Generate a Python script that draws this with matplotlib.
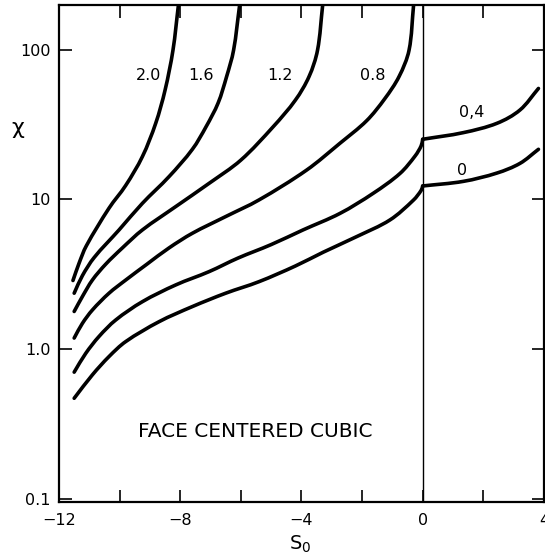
import numpy as np
import matplotlib
matplotlib.use("Agg")
import matplotlib.pyplot as plt
from matplotlib.path import Path
from matplotlib.patches import PathPatch
from matplotlib.ticker import FixedLocator, FixedFormatter, NullLocator

# ---- data (S0, chi) ----
s_20 = [-11.54, -11.34, -11.1, -10.35, -9.8, -9.25, -8.81, -8.5, -8.24, -8.06]
x_20 = [2.88, 3.75, 4.9, 8.75, 12.4, 19.3, 32.2, 53.7, 99, 198]

s_16 = [-11.5, -11.23, -10.84, -10.02, -9.25, -8.37, -7.6, -7.15, -6.75, -6.47, -6.24, -6.04]
x_16 = [2.37, 3.1, 4.1, 6.26, 9.42, 14.2, 21.6, 30.5, 44, 66, 99, 198]

s_12 = [-11.5, -11.23, -10.9, -10.46, -9.91, -9.25, -8.15, -7.05, -6.0, -4.93, -4.2, -3.75, -3.47, -3.3]
x_12 = [1.79, 2.25, 2.9, 3.7, 4.75, 6.26, 8.96, 12.8, 18.3, 30.6, 46, 66, 99, 198]

s_08 = [-11.5, -11.23, -10.9, -10.35, -9.8, -9.1, -8.37, -7.6, -6.5, -5.4, -3.83, -2.73, -1.85, -1.25, -0.78, -0.45, -0.3]
x_08 = [1.19, 1.49, 1.83, 2.37, 2.9, 3.7, 4.75, 5.95, 7.69, 9.93, 15.7, 23.7, 33.5, 47, 66, 99, 198]

# curves 0.4 and 0 have a break in slope at S0 = 0
s_04_left = [-11.5, -11.12, -10.68, -10.13, -9.25, -8.15, -7.05, -6.1, -5.0, -3.95, -2.73, -1.63, -0.75, -0.25, -0.05, 0.0]
x_04_left = [0.705, 0.94, 1.22, 1.57, 2.08, 2.69, 3.3, 4.06, 5.0, 6.26, 8.07, 11.0, 14.9, 19.5, 22.8, 25.2]
s_04_right = [0.0, 1.34, 2.45, 3.21, 3.82]
x_04_right = [25.2, 27.9, 32.2, 39.5, 55]

s_00_left = [-11.5, -10.9, -10.35, -9.8, -8.7, -7.6, -6.5, -5.4, -4.2, -3.28, -2.18, -1.08, -0.305, -0.05, 0.0]
x_00_left = [0.472, 0.676, 0.896, 1.127, 1.53, 1.93, 2.37, 2.83, 3.6, 4.45, 5.65, 7.3, 9.9, 11.5, 12.3]
s_00_right = [0.0, 1.34, 2.45, 3.21, 3.82]
x_00_right = [12.3, 13.2, 15.0, 17.4, 21.6]

curve_labels = ["2.0", "1.6", "1.2", "0.8", "0,4", "0"]
label_s = [-9.06, -7.32, -4.71, -1.65, 1.62, 1.3]
label_x = [66.6, 66.6, 66.6, 66.6, 37.8, 15.7]

xtick_pos = [-12, -10, -8, -6, -4, -2, 0, 2, 4]
xtick_lab = ["\u221212", "", "\u22128", "", "\u22124", "", "0", "", "4"]
ytick_pos = [0.1, 1.0, 10, 100]
ytick_lab = ["0.1", "1.0", "10", "100"]


def smooth_path(s, x, sx=30.3, sy=150.0):
    """Bezier path through the read points, built in (S0, log chi) space."""
    u = np.asarray(s, float) * sx
    v = np.log10(np.asarray(x, float)) * sy
    P = np.column_stack([u, v])
    n = len(P)
    T = np.zeros_like(P)
    for i in range(n):
        if i == 0:
            d = P[1] - P[0]
        elif i == n - 1:
            d = P[-1] - P[-2]
        else:
            d = P[i + 1] - P[i - 1]
        T[i] = d / np.hypot(*d)
    verts = [P[0]]
    codes = [Path.MOVETO]
    for i in range(n - 1):
        L = np.hypot(*(P[i + 1] - P[i])) / 3.0
        verts += [P[i] + T[i] * L, P[i + 1] - T[i + 1] * L, P[i + 1]]
        codes += [Path.CURVE4] * 3
    V = np.array(verts)
    data = np.column_stack([V[:, 0] / sx, 10 ** (V[:, 1] / sy)])
    return Path(data, codes)


# ---- figure ----
fig = plt.figure(figsize=(5.45, 5.59), dpi=100)
ax = fig.add_axes([0.1083, 0.102, 0.8897, 0.889])
ax.set_yscale("log")
ax.set_xlim(-12, 4)
ax.set_ylim(0.096, 198)

series = [(s_20, x_20), (s_16, x_16), (s_12, x_12), (s_08, x_08),
          (s_04_left, x_04_left), (s_04_right, x_04_right),
          (s_00_left, x_00_left), (s_00_right, x_00_right)]
for s, x in series:
    patch = PathPatch(smooth_path(s, x), fill=False, edgecolor="black", lw=2.6,
                      capstyle="round", joinstyle="round")
    ax.add_patch(patch)

ax.axvline(0, color="black", lw=1.0)

ax.xaxis.set_major_locator(FixedLocator(xtick_pos))
ax.xaxis.set_major_formatter(FixedFormatter(xtick_lab))
ax.yaxis.set_major_locator(FixedLocator(ytick_pos))
ax.yaxis.set_major_formatter(FixedFormatter(ytick_lab))
ax.yaxis.set_minor_locator(NullLocator())
ax.xaxis.set_minor_locator(NullLocator())

ax.tick_params(axis="both", direction="in", length=9, width=1.2, top=True, right=True,
               labelsize=11.5, colors="black")
ax.tick_params(axis="x", pad=8)
ax.tick_params(axis="y", pad=6)

for sp in ax.spines.values():
    sp.set_linewidth(1.6)

for lab, s, x in zip(curve_labels, label_s, label_x):
    ax.text(s, x, lab, fontsize=11.5, ha="center", va="center")

ax.text(-5.51, 0.283, "FACE CENTERED CUBIC", fontsize=14.5, ha="center", va="center")

fig.text(18 / 545, 1 - 128 / 559, "\u03c7", fontsize=16, ha="center", va="center")
fig.text(300 / 545, 1 - 544 / 559, "S$_\\mathregular{0}$", fontsize=14, ha="center", va="center")

fig.savefig("out.png", dpi=100)
